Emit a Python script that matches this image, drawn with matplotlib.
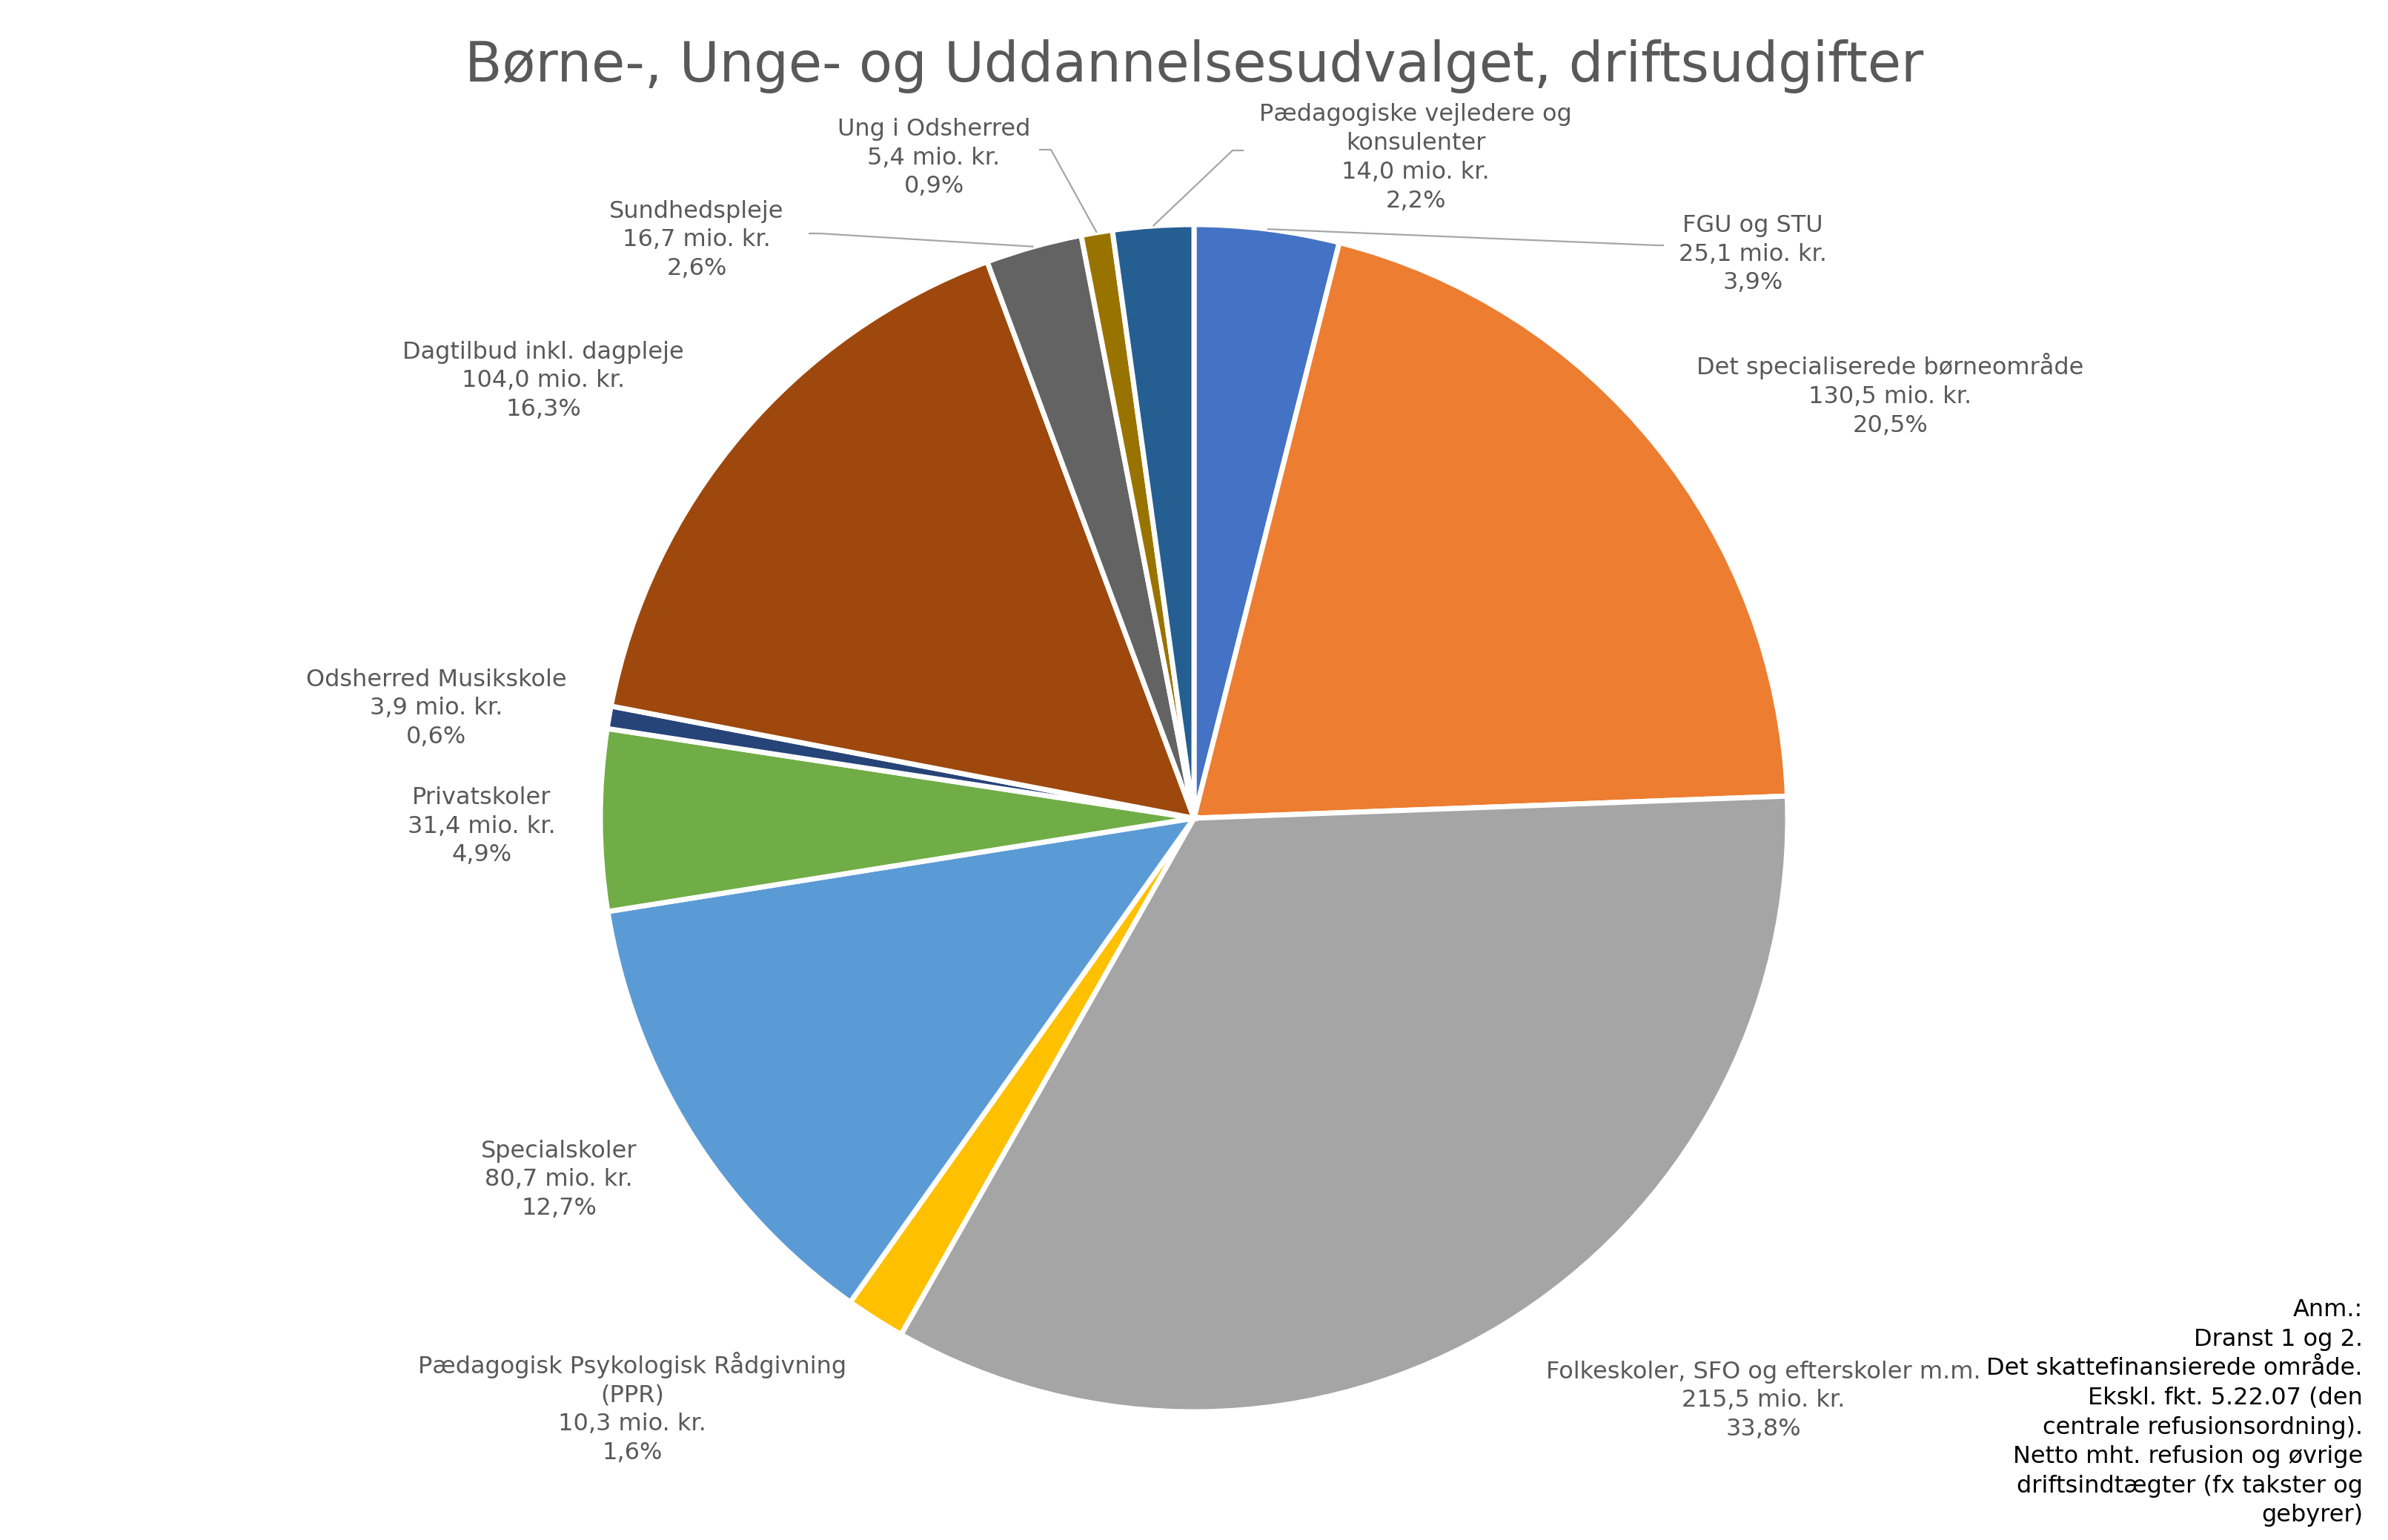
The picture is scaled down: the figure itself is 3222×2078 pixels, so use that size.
import matplotlib.pyplot as plt
import numpy as np

# Data (slices in clockwise order from 12 o'clock)
categories = [
    "FGU og STU",
    "Det specialiserede børneområde",
    "Folkeskoler, SFO og efterskoler m.m.",
    "Pædagogisk Psykologisk Rådgivning\n(PPR)",
    "Specialskoler",
    "Privatskoler",
    "Odsherred Musikskole",
    "Dagtilbud inkl. dagpleje",
    "Sundhedspleje",
    "Ung i Odsherred",
    "Pædagogiske vejledere og\nkonsulenter",
]
values_mio = [25.1, 130.5, 215.5, 10.3, 80.7, 31.4, 3.9, 104.0, 16.7, 5.4, 14.0]
pct_labels = ["3,9%", "20,5%", "33,8%", "1,6%", "12,7%", "4,9%", "0,6%",
              "16,3%", "2,6%", "0,9%", "2,2%"]

colors = ["#4472C4", "#ED7D31", "#A5A5A5", "#FFC000", "#5B9BD5", "#70AD47",
          "#264478", "#9E480E", "#636363", "#997300", "#255E91"]

title = "Børne-, Unge- og Uddannelsesudvalget, driftsudgifter"
note_lines = [
    "Anm.:",
    "Dranst 1 og 2.",
    "Det skattefinansierede område.",
    "Ekskl. fkt. 5.22.07 (den",
    "centrale refusionsordning).",
    "Netto mht. refusion og øvrige",
    "driftsindtægter (fx takster og",
    "gebyrer)",
]

# Layout (pixels from top-left of the 3222x2078 canvas)
W, H = 3222, 2078
CX, CY, R = 1611, 1104, 801
TEXT_COLOR = "#595959"
LEADER_COLOR = "#A6A6A6"
LABEL_SIZE = 23
LINE_SPACING = 1.33

label_pos = [
    (2365, 343), (2550, 533), (2379, 1890), (853, 1900), (754, 1592),
    (650, 1115), (589, 956), (733, 514), (940, 324), (1260, 213), (1910, 213),
]
# leader lines: slice index -> (x_elbow, x_end, y)
leaders = {
    0: (2235, 2245, 331),
    8: (1106, 1091, 315),
    9: (1418, 1402, 202),
    10: (1663, 1678, 203),
}


def px(x, y):
    return (x - CX) / R, (CY - y) / R


fig = plt.figure(figsize=(W / 100, H / 100), dpi=100, facecolor="white")
ax = fig.add_axes([0, 0, 1, 1])

wedges, _ = ax.pie(values_mio, colors=colors, startangle=90, counterclock=False,
                   radius=1, center=(0, 0), frame=True,
                   wedgeprops=dict(edgecolor="white", linewidth=5))
ax.set_xlim(-CX / R, (W - CX) / R)
ax.set_ylim(-(H - CY) / R, CY / R)
ax.axis("off")

for i, (name, val, pct) in enumerate(zip(categories, values_mio, pct_labels)):
    val_txt = f"{val:.1f}".replace(".", ",")
    txt = f"{name}\n{val_txt} mio. kr.\n{pct}"
    lx, ly = px(*label_pos[i])
    ax.text(lx, ly, txt, ha="center", va="center", fontsize=LABEL_SIZE,
            color=TEXT_COLOR, linespacing=LINE_SPACING)

    if i in leaders:
        w = wedges[i]
        mid = np.deg2rad((w.theta1 + w.theta2) / 2)
        ex, ey = np.cos(mid), np.sin(mid)
        x_elb, x_end, y_l = leaders[i]
        bx, by = px(x_elb, y_l)
        cx, _ = px(x_end, y_l)
        ax.plot([ex, bx, cx], [ey, by, by], color=LEADER_COLOR, linewidth=1.6,
                solid_capstyle="butt")

tx, ty = px(W / 2, 90)
ax.text(tx, ty, title, ha="center", va="center", fontsize=53, color=TEXT_COLOR)

nx, ny = px(3188, 1752)
ax.text(nx, ny, "\n".join(note_lines), ha="right", va="top", fontsize=LABEL_SIZE,
        color="black", linespacing=1.36)

fig.savefig("out.png", dpi=100, facecolor="white")
